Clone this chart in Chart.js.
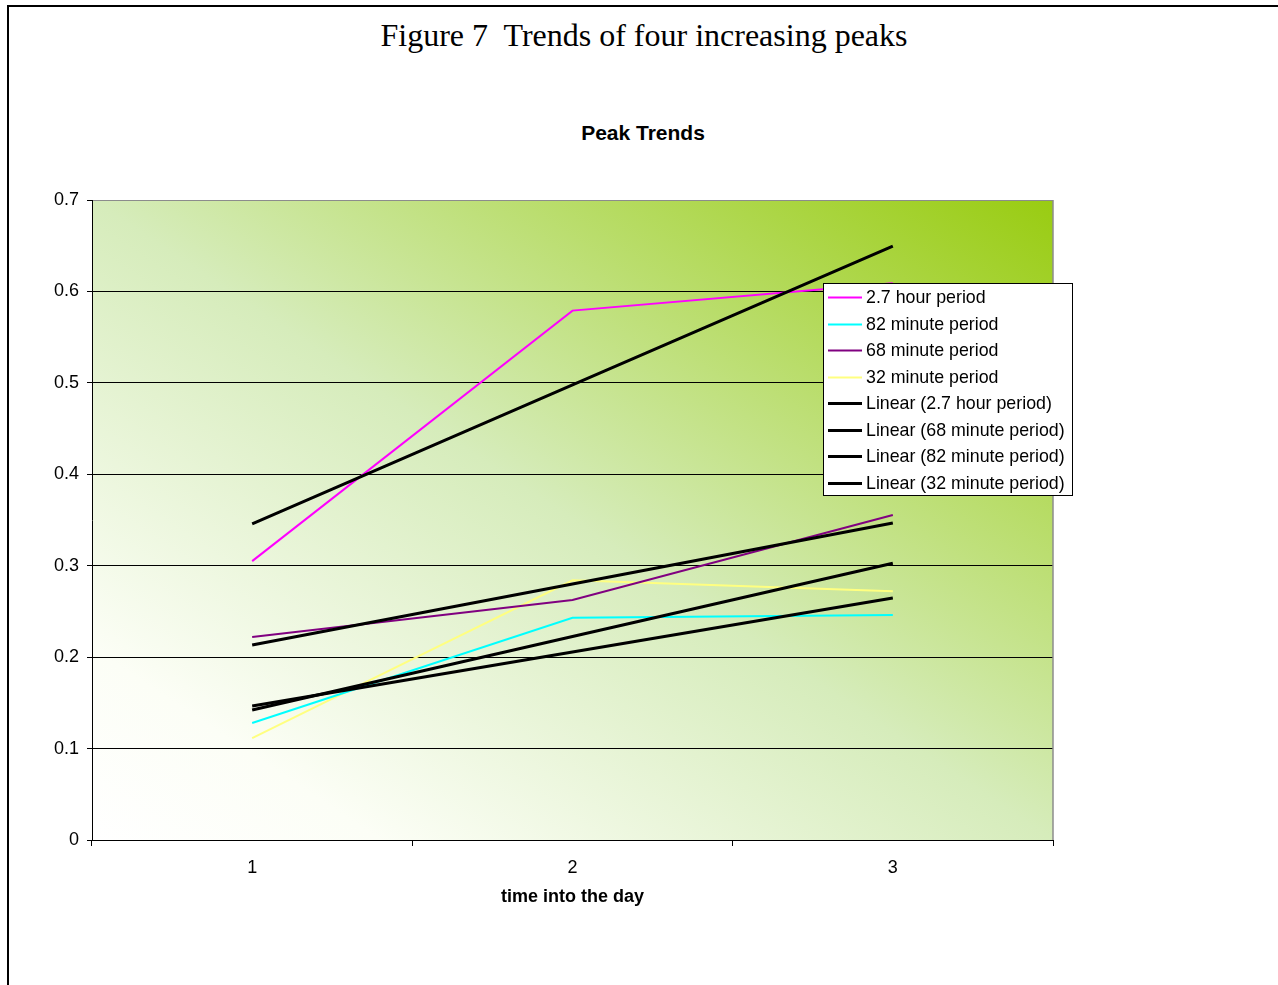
<!DOCTYPE html>
<html>
<head>
<meta charset="utf-8">
<script src="https://cdn.jsdelivr.net/npm/chart.js@4.4.1/dist/chart.umd.min.js"></script>
<style>
  html, body { margin: 0; padding: 0; background: #fff; overflow: hidden; }
  #wrap { position: relative; width: 1278px; height: 985px; overflow: hidden; }
  #frame { position: absolute; left: 7px; top: 5px; width: 1320px; height: 1020px;
           border-left: 2px solid #000; border-top: 2px solid #000; }
  #fig { position: absolute; left: 0; top: 15px; width: 1288px; text-align: center;
         font: 32px "Liberation Serif", "Times New Roman", serif; line-height: 40px;
         white-space: pre; color: #000; }
  #ttl { position: absolute; left: 0; top: 120px; width: 1286px; text-align: center;
         font: bold 21px "Liberation Sans", Arial, sans-serif; line-height: 26px; color: #000; }
  canvas { position: absolute; left: 0; top: 0; }
</style>
</head>
<body>
<div id="wrap">
  <div id="frame"></div>
  <div id="fig">Figure 7  Trends of four increasing peaks</div>
  <div id="ttl">Peak Trends</div>
  <canvas id="c" width="1278" height="985"></canvas>
</div>
<script>
// Peak heights at each time of day
const categories = ['1', '2', '3'];
const xValues = [1, 2, 3];
const period27h = [0.305, 0.579, 0.609];
const period82m = [0.128, 0.243, 0.246];
const period68m = [0.222, 0.2625, 0.3555];
const period32m = [0.1115, 0.284, 0.272];

const yTickValues = [0, 0.1, 0.2, 0.3, 0.4, 0.5, 0.6, 0.7];
const yTickLabels = ['0', '0.1', '0.2', '0.3', '0.4', '0.5', '0.6', '0.7'];

// Least-squares straight line through a series, evaluated at each category
function linearTrend(ys) {
  const n = ys.length;
  const mx = xValues.reduce((a, b) => a + b, 0) / n;
  const my = ys.reduce((a, b) => a + b, 0) / n;
  let sxy = 0, sxx = 0;
  for (let i = 0; i < n; i++) {
    sxy += (xValues[i] - mx) * (ys[i] - my);
    sxx += (xValues[i] - mx) * (xValues[i] - mx);
  }
  const slope = sxy / sxx;
  return xValues.map(x => my + slope * (x - mx));
}

const FONT = '"Liberation Sans", Arial, sans-serif';

function series(label, data, color) {
  return { label, data, borderColor: color, backgroundColor: color, borderWidth: 2,
           pointRadius: 0, tension: 0, fill: false, order: 1 };
}
function trend(label, data) {
  return { label, data: linearTrend(data), borderColor: '#000', backgroundColor: '#000',
           borderWidth: 3, pointRadius: 0, tension: 0, fill: false, order: 0 };
}

// Diagonal white-to-green wash behind the plot, plus the grey right edge
const plotBackground = {
  id: 'plotBackground',
  beforeDraw(chart) {
    const { ctx, chartArea: a } = chart;
    const w = a.right - a.left, h = a.bottom - a.top;
    // colour bands run parallel to the top-left/bottom-right diagonal
    const len = Math.hypot(w, h);
    const ux = h / len, uy = -w / len;
    const proj = w * ux + (-h) * uy;
    const g = ctx.createLinearGradient(a.left, a.bottom, a.left + ux * proj, a.bottom + uy * proj);
    g.addColorStop(0, '#ffffff');
    g.addColorStop(0.15, '#fcfef6');
    g.addColorStop(0.5, '#d6ecbb');
    g.addColorStop(1, '#99cc11');
    ctx.save();
    ctx.fillStyle = g;
    ctx.fillRect(a.left, a.top, w, h);
    ctx.restore();
  },
  beforeDatasetsDraw(chart) {
    const { ctx, chartArea: a } = chart;
    ctx.save();
    ctx.strokeStyle = '#8c8c8c';
    ctx.lineWidth = 1.5;
    ctx.beginPath();
    ctx.moveTo(a.right, a.top);
    ctx.lineTo(a.right, a.bottom);
    ctx.stroke();
    ctx.restore();
  }
};

// Boxed legend sitting over the upper right of the plot
const boxLegend = {
  id: 'boxLegend',
  afterDatasetsDraw(chart) {
    const { ctx, chartArea: a } = chart;
    const left = a.right - 230, top = a.top + 83, width = 249, height = 212;
    const rowH = 26.5, first = 14;
    ctx.save();
    ctx.fillStyle = '#fff';
    ctx.fillRect(left, top, width, height);
    ctx.strokeStyle = '#000';
    ctx.lineWidth = 1;
    ctx.strokeRect(left + 0.5, top + 0.5, width, height);
    ctx.font = '17.8px ' + FONT;
    ctx.textBaseline = 'middle';
    ctx.textAlign = 'left';
    chart.data.datasets.forEach((ds, i) => {
      const y = Math.round(top + first + i * rowH) + 0.5;
      ctx.strokeStyle = ds.borderColor;
      ctx.lineWidth = ds.borderWidth;
      ctx.beginPath();
      ctx.moveTo(left + 5, y);
      ctx.lineTo(left + 39, y);
      ctx.stroke();
      ctx.fillStyle = '#000';
      ctx.fillText(ds.label, left + 43, y + 1);
    });
    ctx.restore();
  }
};

new Chart(document.getElementById('c'), {
  type: 'line',
  data: {
    labels: categories,
    datasets: [
      series('2.7 hour period', period27h, '#ff00ff'),
      series('82 minute period', period82m, '#00ffff'),
      series('68 minute period', period68m, '#800080'),
      series('32 minute period', period32m, '#ffff80'),
      trend('Linear (2.7 hour period)', period27h),
      trend('Linear (68 minute period)', period68m),
      trend('Linear (82 minute period)', period82m),
      trend('Linear (32 minute period)', period32m)
    ]
  },
  options: {
    responsive: false,
    devicePixelRatio: 1,
    animation: false,
    layout: { padding: { top: 200, left: 0, right: 225, bottom: 77 } },
    plugins: {
      legend: { display: false },
      title: { display: false },
      tooltip: { enabled: false }
    },
    scales: {
      x: {
        type: 'category',
        offset: true,
        grid: { offset: true, drawOnChartArea: false, drawTicks: true, tickLength: 6,
                color: '#000', lineWidth: 1 },
        border: { color: '#000', width: 1 },
        ticks: { color: '#000', font: { family: FONT, size: 18 }, padding: 11, maxRotation: 0 },
        title: { display: true, text: 'time into the day', color: '#000',
                 font: { family: FONT, size: 18, weight: 'bold' }, padding: 0 },
        afterFit(scale) { scale.height = 68; }
      },
      y: {
        min: 0,
        max: 0.7,
        afterBuildTicks(scale) { scale.ticks = yTickValues.map(v => ({ value: v })); },
        grid: {
          drawTicks: true, tickLength: 5, lineWidth: 1, tickColor: '#000',
          color: ctx => (ctx.tick && ctx.tick.value === 0.7) ? '#8c8c8c' : '#000'
        },
        border: { color: '#000', width: 1 },
        ticks: {
          color: '#000', font: { family: FONT, size: 18 }, padding: 8,
          callback: (v, i) => yTickLabels[i]
        },
        afterFit(scale) { scale.width = 92; }
      }
    }
  },
  plugins: [plotBackground, boxLegend]
});
</script>
</body>
</html>
